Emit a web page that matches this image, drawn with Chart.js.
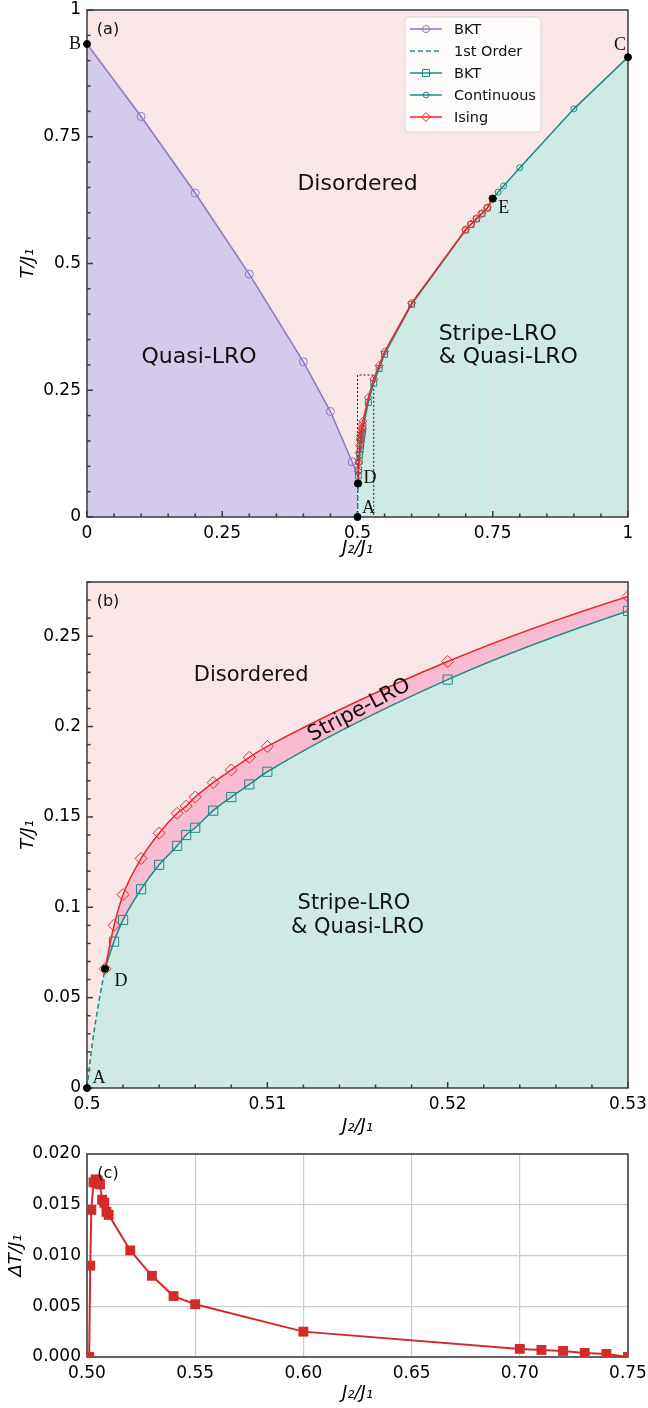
<!DOCTYPE html>
<html>
<head>
<meta charset="utf-8">
<script src="https://cdn.jsdelivr.net/npm/chart.js@4.4.0/dist/chart.umd.min.js"></script>
<style>
  body { margin: 0; background: #fff; width: 648px; height: 1408px; position: relative; overflow: hidden; }
  .panel { position: absolute; left: 0; width: 648px; }
</style>
</head>
<body>
<div class="panel" style="top:0;height:565px"><canvas id="chartA"></canvas></div>
<div class="panel" style="top:565px;height:575px"><canvas id="chartB"></canvas></div>
<div class="panel" style="top:1140px;height:268px"><canvas id="chartC"></canvas></div>
<script>
// BKT line of the quasi-LRO phase (purple)
const quasiX = [0, 0.1, 0.2, 0.3, 0.4, 0.45, 0.49, 0.5];
const quasiT = [0.933, 0.790, 0.639, 0.479, 0.306, 0.208, 0.109, 0.082];

// first order line from A to D
const firstX = [0.5, 0.5003, 0.5007, 0.501];
const firstT = [0, 0.025, 0.05, 0.066];

// stripe side: BKT (squares) and Ising (diamonds), same J2 grid
const stripeX = [0.501, 0.5015, 0.502, 0.503, 0.504, 0.505, 0.5055, 0.506, 0.507, 0.508, 0.509, 0.51,
                 0.52, 0.53, 0.54, 0.55, 0.6, 0.7, 0.71, 0.72, 0.73, 0.74, 0.75];
const bktT   = [0.066, 0.081, 0.093, 0.110, 0.1235, 0.134, 0.140, 0.144, 0.1535, 0.161, 0.168, 0.175,
                0.226, 0.264, 0.293, 0.321, 0.4195, 0.566, 0.577, 0.588, 0.598, 0.6096, 0.628];
const isingT = [0.066, 0.090, 0.107, 0.127, 0.141, 0.152, 0.156, 0.161, 0.169, 0.176, 0.183, 0.189,
                0.236, 0.272, 0.299, 0.326, 0.422, 0.567, 0.578, 0.589, 0.599, 0.610, 0.628];

// continuous line from E to C
const contX = [0.75, 0.76, 0.77, 0.8, 0.9, 1];
const contT = [0.628, 0.641, 0.653, 0.689, 0.805, 0.907];

// special points
const markNames = ['A', 'B', 'C', 'D', 'E'];
const markX = [0.5, 0, 1, 0.501, 0.75];
const markT = [0, 0.933, 0.907, 0.066, 0.628];

// dotted box = range of panel (b)
const zoomX = [0.5, 0.5, 0.53, 0.53];
const zoomT = [0, 0.28, 0.28, 0];

// (c) width of the stripe-LRO window
const gapX = [0.501, 0.5015, 0.502, 0.503, 0.504, 0.505, 0.5055, 0.506, 0.507, 0.508, 0.509, 0.51,
              0.52, 0.53, 0.54, 0.55, 0.6, 0.7, 0.71, 0.72, 0.73, 0.74, 0.75];
const gapT = [0, 0.0090, 0.0145, 0.0172, 0.0175, 0.0174, 0.0171, 0.0170, 0.0155, 0.0152, 0.0143, 0.0140,
              0.0105, 0.0080, 0.0060, 0.0052, 0.0025, 0.0008, 0.0007, 0.0006, 0.0004, 0.0003, 0];

const SANS = "'DejaVu Sans', sans-serif";
const SERIF = "'Liberation Serif', 'Times New Roman', serif";
const PURPLE = '#8b79c3', TEAL = '#1c8a8a', RED = '#e9282c', RED_C = '#d42a2a';
const BG_PINK = '#f9e7e7', BG_PURPLE = '#d4caea', BG_GREEN = '#cfeae4', BG_BAND = '#f8bbd1';

Chart.defaults.font.family = SANS;
Chart.defaults.color = '#000';
Chart.defaults.animation = false;

function pts(xs, ys) { return xs.map((x, i) => ({ x: x, y: ys[i] })); }
function marks(names) {
  return names.map(n => { const i = markNames.indexOf(n); return { x: markX[i], y: markT[i] }; });
}

function drawMarker(ctx, style, r, x, y) {
  ctx.beginPath();
  if (style === 'circle') ctx.arc(x, y, r, 0, Math.PI * 2);
  else if (style === 'rect') { const s = r * Math.SQRT1_2; ctx.rect(x - s, y - s, 2 * s, 2 * s); }
  else if (style === 'rectRot') { ctx.moveTo(x, y - r); ctx.lineTo(x + r, y); ctx.lineTo(x, y + r); ctx.lineTo(x - r, y); ctx.closePath(); }
  ctx.stroke();
}

// background, frame and inward ticks
const framePlugin = {
  id: 'frame',
  beforeDraw(chart, args, o) {
    if (!o.bg) return;
    const a = chart.chartArea, ctx = chart.ctx;
    ctx.save();
    ctx.fillStyle = o.bg;
    ctx.fillRect(a.left, a.top, a.right - a.left, a.bottom - a.top);
    ctx.restore();
  },
  beforeDatasetsDraw(chart, args, o) {
    const { ctx, chartArea: a, scales: { x, y } } = chart;
    ctx.save();
    ctx.strokeStyle = '#3a3a3a';
    ctx.lineWidth = 1.5;
    const isMajor = (s, v) => s.ticks.some(t => Math.abs(t.value - v) < 1e-9);
    if (o.xMinor) {
      const n = Math.round((x.max - x.min) / o.xMinor);
      for (let i = 0; i <= n; i++) {
        const v = x.min + i * o.xMinor, px = x.getPixelForValue(v);
        const len = isMajor(x, v) ? 6 : 3.5;
        ctx.beginPath(); ctx.moveTo(px, a.bottom); ctx.lineTo(px, a.bottom - len); ctx.stroke();
      }
    }
    if (o.yMinor) {
      const n = Math.round((y.max - y.min) / o.yMinor);
      for (let i = 0; i <= n; i++) {
        const v = y.min + i * o.yMinor, py = y.getPixelForValue(v);
        const len = isMajor(y, v) ? 6 : 3.5;
        ctx.beginPath(); ctx.moveTo(a.left, py); ctx.lineTo(a.left + len, py); ctx.stroke();
      }
    }
    ctx.strokeRect(a.left, a.top, a.right - a.left, a.bottom - a.top);
    ctx.restore();
  }
};

// region names, panel tag, point names
const notesPlugin = {
  id: 'notes',
  afterDatasetsDraw(chart, args, o) {
    const { ctx, chartArea: a, scales: { x, y } } = chart;
    ctx.save();
    ctx.fillStyle = '#111';
    ctx.textBaseline = 'middle';
    (o.regions || []).forEach(r => {
      ctx.save();
      ctx.font = (r.size || 21) + 'px ' + SANS;
      ctx.textAlign = r.align || 'center';
      ctx.translate(x.getPixelForValue(r.x), y.getPixelForValue(r.y));
      if (r.rotate) ctx.rotate(r.rotate * Math.PI / 180);
      ctx.fillText(r.text, 0, 0);
      ctx.restore();
    });
    ctx.font = '16px ' + SANS;
    ctx.textAlign = 'center';
    ctx.fillText(o.tag, a.left + 21, a.top + 20);
    ctx.font = '18px ' + SERIF;
    (o.marks || []).forEach(n => {
      const i = markNames.indexOf(n), off = o.offsets[n];
      ctx.fillText(n, x.getPixelForValue(markX[i]) + off[0], y.getPixelForValue(markT[i]) + off[1]);
    });
    ctx.restore();
  }
};

// legend box drawn inside panel (a)
const boxLegendPlugin = {
  id: 'boxLegend',
  afterDatasetsDraw(chart, args, o) {
    if (!o.items) return;
    const ctx = chart.ctx;
    ctx.save();
    ctx.fillStyle = 'rgba(255,255,255,0.82)';
    ctx.strokeStyle = '#d6d6d6';
    ctx.lineWidth = 1;
    ctx.beginPath();
    ctx.roundRect(o.left, o.top, o.width, o.height, 4);
    ctx.fill(); ctx.stroke();
    o.items.forEach((idx, k) => {
      const ds = chart.data.datasets[idx];
      const cy = o.top + 12 + k * 22;
      ctx.strokeStyle = ds.borderColor;
      ctx.lineWidth = 1.5;
      ctx.setLineDash(ds.borderDash || []);
      ctx.beginPath(); ctx.moveTo(o.left + 5, cy); ctx.lineTo(o.left + 37, cy); ctx.stroke();
      ctx.setLineDash([]);
      ctx.lineWidth = 1;
      if (ds.legendMarker) drawMarker(ctx, ds.pointStyle, ds.legendMarker, o.left + 21, cy);
      ctx.fillStyle = '#111';
      ctx.font = '14.5px ' + SANS;
      ctx.textBaseline = 'middle';
      ctx.fillText(ds.label, o.left + 49, cy + 1);
    });
    ctx.restore();
  }
};

function axis(min, max, step, fmt, title, titlePad, fit) {
  return {
    type: 'linear', min: min, max: max,
    grid: { display: false, drawTicks: false },
    border: { display: false },
    ticks: { stepSize: step, includeBounds: false, padding: 6, maxRotation: 0, autoSkip: false,
             font: { size: 17 }, color: '#000', callback: fmt },
    title: { display: true, text: title, color: '#000', font: { size: 18, style: 'italic' }, padding: titlePad },
    afterFit: fit
  };
}

const trim = v => String(+v.toFixed(3));
// fixed axis sizes so every panel keeps the same plot box
const xFit = h => s => { s.height = h; s.paddingLeft = 0; s.paddingRight = 0; };
const yFit = s => { s.width = 87; s.paddingTop = 0; s.paddingBottom = 0; };

// ---------- panel (a) ----------
new Chart(document.getElementById('chartA'), {
  type: 'scatter',
  data: {
    datasets: [
      { label: 'points', data: marks(markNames), pointRadius: 3.5, pointBackgroundColor: '#000',
        pointBorderColor: '#000', clip: false },
      { label: 'Ising', data: pts(stripeX, isingT), showLine: true, borderColor: RED, borderWidth: 1.5,
        pointStyle: 'rectRot', pointRadius: 4, pointBorderColor: RED, pointBackgroundColor: 'rgba(0,0,0,0)',
        pointBorderWidth: 1, legendMarker: 4.5, fill: { target: 3 }, backgroundColor: BG_BAND },
      { label: 'Continuous', data: pts(contX, contT), showLine: true, borderColor: TEAL, borderWidth: 1.5,
        pointStyle: 'circle', pointRadius: c => (c.dataIndex === 0 || c.dataIndex === contX.length - 1) ? 0 : 3,
        pointBorderColor: TEAL, pointBackgroundColor: 'rgba(0,0,0,0)', pointBorderWidth: 1,
        legendMarker: 2.8, fill: 'origin', backgroundColor: BG_GREEN },
      { label: 'BKT', data: pts(stripeX, bktT), showLine: true, borderColor: TEAL, borderWidth: 1.5,
        pointStyle: 'rect', pointRadius: 4.2, pointBorderColor: TEAL, pointBackgroundColor: 'rgba(0,0,0,0)',
        pointBorderWidth: 1, legendMarker: 5, fill: 'origin', backgroundColor: BG_GREEN },
      { label: '1st Order', data: pts(firstX, firstT), showLine: true, borderColor: TEAL, borderWidth: 1.5,
        borderDash: [5, 3], pointRadius: 0, fill: 'origin', backgroundColor: BG_GREEN },
      { label: 'BKT', data: pts(quasiX, quasiT), showLine: true, borderColor: PURPLE, borderWidth: 1.5,
        pointStyle: 'circle', pointRadius: c => (c.dataIndex === 0 || c.dataIndex === quasiX.length - 1) ? 0 : 4,
        pointBorderColor: PURPLE, pointBackgroundColor: 'rgba(0,0,0,0)', pointBorderWidth: 1,
        legendMarker: 3.6, fill: 'origin', backgroundColor: BG_PURPLE },
      { label: 'zoom', data: pts(zoomX, zoomT), showLine: true, borderColor: '#222', borderWidth: 1,
        borderDash: [2, 2], pointRadius: 0 }
    ]
  },
  options: {
    responsive: true, maintainAspectRatio: false,
    layout: { padding: { top: 10, right: 20, left: 0, bottom: 0 } },
    scales: {
      x: axis(0, 1, 0.25, trim, 'J₂/J₁', { top: 0, bottom: 6 }, xFit(48)),
      y: axis(0, 1, 0.25, trim, 'T/J₁', { top: 18, bottom: 0 }, yFit)
    },
    plugins: {
      legend: { display: false }, tooltip: { enabled: false },
      filler: { drawTime: 'beforeDatasetsDraw' },
      frame: { bg: BG_PINK, xMinor: 0.05, yMinor: 0.05 },
      notes: {
        tag: '(a)',
        regions: [
          { text: 'Disordered', x: 0.5, y: 0.656, size: 22 },
          { text: 'Quasi-LRO', x: 0.207, y: 0.315, size: 22 },
          { text: 'Stripe-LRO', x: 0.65, y: 0.361, align: 'left', size: 22 },
          { text: '& Quasi-LRO', x: 0.65, y: 0.315, align: 'left', size: 22 }
        ],
        marks: ['A', 'B', 'C', 'D', 'E'],
        offsets: { A: [11, -9], B: [-12, 0], C: [-8, -12], D: [12, -5], E: [11, 10] }
      },
      boxLegend: { items: [5, 4, 3, 2, 1], left: 405, top: 17, width: 136, height: 115 }
    }
  },
  plugins: [framePlugin, notesPlugin, boxLegendPlugin]
});

// ---------- panel (b) ----------
new Chart(document.getElementById('chartB'), {
  type: 'scatter',
  data: {
    datasets: [
      { label: 'points', data: marks(['A', 'D']), pointRadius: 3.5, pointBackgroundColor: '#000',
        pointBorderColor: '#000', clip: false },
      { label: 'Ising', data: pts(stripeX, isingT), showLine: true, borderColor: RED, borderWidth: 1.5,
        cubicInterpolationMode: 'monotone',
        pointStyle: 'rectRot', pointRadius: 6, pointBorderColor: RED, pointBackgroundColor: 'rgba(0,0,0,0)',
        pointBorderWidth: 1, fill: { target: 2 }, backgroundColor: BG_BAND },
      { label: 'BKT', data: pts(stripeX, bktT), showLine: true, borderColor: TEAL, borderWidth: 1.5,
        cubicInterpolationMode: 'monotone',
        pointStyle: 'rect', pointRadius: c => c.dataIndex === 0 ? 0 : 6.5, pointBorderColor: TEAL,
        pointBackgroundColor: 'rgba(0,0,0,0)', pointBorderWidth: 1, fill: 'origin', backgroundColor: BG_GREEN },
      { label: '1st Order', data: pts(firstX, firstT), showLine: true, borderColor: TEAL, borderWidth: 1.5,
        cubicInterpolationMode: 'monotone',
        borderDash: [5, 3], pointRadius: 0, fill: 'origin', backgroundColor: BG_GREEN }
    ]
  },
  options: {
    responsive: true, maintainAspectRatio: false,
    layout: { padding: { top: 17, right: 20, left: 0, bottom: 0 } },
    scales: {
      x: axis(0.5, 0.53, 0.01, trim, 'J₂/J₁', { top: 0, bottom: 3 }, xFit(52)),
      y: axis(0, 0.28, 0.05, trim, 'T/J₁', { top: 18, bottom: 0 }, yFit)
    },
    plugins: {
      legend: { display: false }, tooltip: { enabled: false },
      filler: { drawTime: 'beforeDatasetsDraw' },
      frame: { bg: BG_PINK, xMinor: 0.002, yMinor: 0.01 },
      notes: {
        tag: '(b)',
        regions: [
          { text: 'Disordered', x: 0.5091, y: 0.228 },
          { text: 'Stripe-LRO', x: 0.5151, y: 0.209, rotate: -28 },
          { text: 'Stripe-LRO', x: 0.5148, y: 0.102 },
          { text: '& Quasi-LRO', x: 0.515, y: 0.089 }
        ],
        marks: ['A', 'D'],
        offsets: { A: [12, -10], D: [16, 13] }
      }
    }
  },
  plugins: [framePlugin, notesPlugin]
});

// ---------- panel (c) ----------
const xc = axis(0.5, 0.75, 0.05, v => v.toFixed(2), 'J₂/J₁', { top: 0, bottom: 4 }, xFit(51));
xc.grid = { display: true, drawTicks: false, color: '#cdcdcd', lineWidth: 1.2 };
const yc = axis(0, 0.02, 0.005, v => v.toFixed(3), 'ΔT/J₁', { top: 6, bottom: 0 }, yFit);
yc.grid = { display: true, drawTicks: false, color: '#cdcdcd', lineWidth: 1.2 };

new Chart(document.getElementById('chartC'), {
  type: 'scatter',
  data: {
    datasets: [
      { label: 'ΔT', data: pts(gapX, gapT), showLine: true, borderColor: RED_C, borderWidth: 2,
        pointStyle: 'rect', pointRadius: 7, pointBackgroundColor: RED_C, pointBorderColor: RED_C,
        pointBorderWidth: 0 }
    ]
  },
  options: {
    responsive: true, maintainAspectRatio: false,
    layout: { padding: { top: 14, right: 20, left: 0, bottom: 0 } },
    scales: { x: xc, y: yc },
    plugins: {
      legend: { display: false }, tooltip: { enabled: false },
      frame: {},
      notes: { tag: '(c)' }
    }
  },
  plugins: [framePlugin, notesPlugin]
});
</script>
</body>
</html>
